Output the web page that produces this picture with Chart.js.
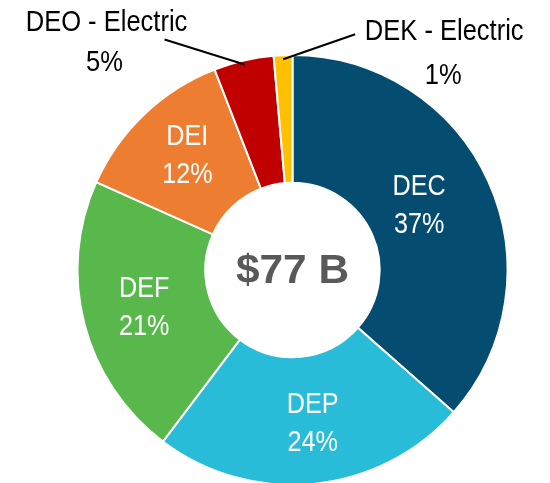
<!DOCTYPE html>
<html>
<head>
<meta charset="utf-8">
<script src="https://cdn.jsdelivr.net/npm/chart.js@4.4.1/dist/chart.umd.min.js"></script>
<style>
  html, body { margin: 0; padding: 0; background: #fff; }
  #wrap { width: 550px; height: 483px; }
</style>
</head>
<body>
<div id="wrap"><canvas id="donut"></canvas></div>
<script>
const segments = ["DEC", "DEP", "DEF", "DEI", "DEO - Electric", "DEK - Electric"];
const shares = [36.5, 23.8, 21.4, 12.4, 4.5, 1.4];
const shareLabels = ["37%", "24%", "21%", "12%", "5%", "1%"];
const colors = ["#044D70", "#29BCD9", "#59B84C", "#ED7D31", "#C00000", "#FFC000"];
const centerText = "$77 B";

const FONT = "'Liberation Sans', Arial, sans-serif";

// Arial Narrow look-alike: squeeze Liberation Sans horizontally
function drawText(ctx, text, x, y, font, color, sx) {
  ctx.save();
  ctx.translate(x, y);
  ctx.scale(sx, 1);
  ctx.font = font;
  ctx.fillStyle = color;
  ctx.textAlign = "center";
  ctx.textBaseline = "middle";
  ctx.fillText(text, 0, 0);
  ctx.restore();
}

// little nudges off the arc centre for the inside labels
const insideNudge = {
  0: [-11, -2],
  1: [5, 3],
  2: [-2, 0],
  3: [-1, -5]
};

// small slices get their label outside with a leader line
const outsideLabels = {
  4: { lineEnd: [-80, -25], line1: [-58, -17], line2: [-60, 23] },
  5: { lineEnd: [72, -25], line1: [89, -2], line2: [88, 42] }
};

const labelPlugin = {
  id: "sliceLabels",
  afterDatasetsDraw(chart) {
    const ctx = chart.ctx;
    const meta = chart.getDatasetMeta(0);
    meta.data.forEach((arc, i) => {
      const out = outsideLabels[i];
      if (!out) {
        const p = arc.getCenterPoint();
        const n = insideNudge[i] || [0, 0];
        drawText(ctx, segments[i], p.x + n[0], p.y + n[1] - 19, "30px " + FONT, "#fff", 0.84);
        drawText(ctx, shareLabels[i], p.x + n[0], p.y + n[1] + 19, "30px " + FONT, "#fff", 0.84);
        return;
      }
      const mid = (arc.startAngle + arc.endAngle) / 2;
      const r = arc.outerRadius - 4;
      const ax = arc.x + Math.cos(mid) * r;
      const ay = arc.y + Math.sin(mid) * r;
      const ex = ax + out.lineEnd[0];
      const ey = ay + out.lineEnd[1];
      ctx.save();
      ctx.strokeStyle = "#000";
      ctx.lineWidth = 2;
      ctx.beginPath();
      ctx.moveTo(ax, ay);
      ctx.lineTo(ex, ey);
      ctx.stroke();
      ctx.restore();
      drawText(ctx, segments[i], ex + out.line1[0], ey + out.line1[1], "29px " + FONT, "#000", 0.88);
      drawText(ctx, shareLabels[i], ex + out.line2[0], ey + out.line2[1], "29px " + FONT, "#000", 0.88);
    });
    const a = meta.data[0];
    drawText(ctx, centerText, a.x, a.y + 2, "bold 40px " + FONT, "#595959", 1.06);
  }
};

const data = {
  labels: segments,
  datasets: [
    {
      data: shares,
      backgroundColor: colors,
      borderColor: "#ffffff",
      borderWidth: 2
    }
  ]
};

const config = {
  type: "doughnut",
  data: data,
  options: {
    responsive: true,
    maintainAspectRatio: false,
    animation: false,
    radius: 215,
    cutout: 86,
    layout: {
      padding: { left: 78, right: 43, top: 57, bottom: 0 }
    },
    plugins: {
      legend: { display: false },
      tooltip: { enabled: false }
    }
  },
  plugins: [labelPlugin]
};

const donutChart = new Chart(document.getElementById("donut"), config);
</script>
</body>
</html>
